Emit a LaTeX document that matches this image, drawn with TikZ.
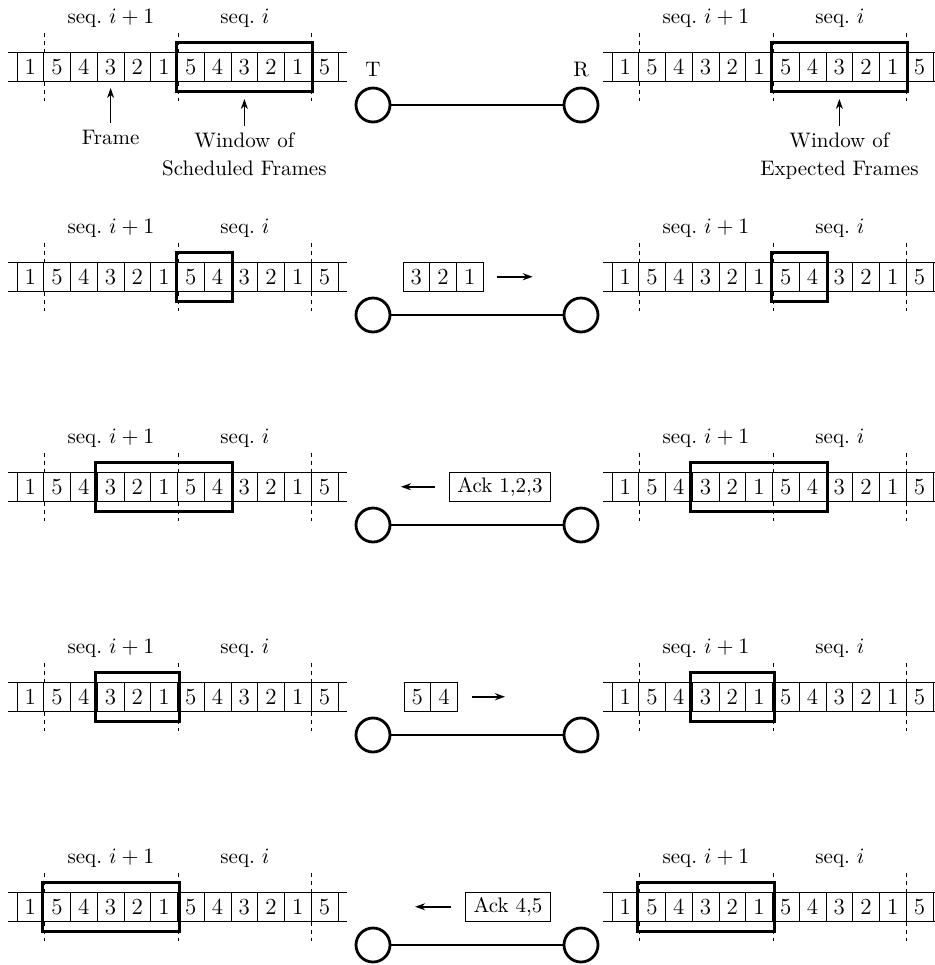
\documentclass[tikz,border=0pt]{standalone}
\usetikzlibrary{arrows.meta,positioning}

\newcommand{\seqfont}{\fontsize{10.5}{14}\selectfont}
\newcommand{\cellfont}{\fontsize{11.5}{14}\selectfont}

\tikzset{
  cell/.style={draw,line width=0.5pt,minimum width=13.375pt,minimum height=14.75pt,inner sep=0pt,font=\cellfont},
  stripline/.style={line width=0.5pt},
  window/.style={line width=1.5pt},
  seqsep/.style={line width=0.5pt,dash pattern=on 2pt off 2pt},
  station/.style={circle,draw,line width=1.4pt,minimum size=17pt,inner sep=0pt},
  link/.style={line width=1.4pt},
  msg/.style={line width=1pt,-{Stealth[length=5pt,width=3.5pt]}},
  pointer/.style={line width=0.7pt,-{Stealth[length=5pt,width=3.5pt]}},
  ackbox/.style={draw,line width=0.5pt,minimum height=14.75pt,inner xsep=4pt,inner ysep=0pt,font=\seqfont},
  lbl/.style={font=\seqfont,align=center},
}

% #1 name, #2 left edge, #3 top edge, #4..#5 cells inside the window
\newcommand{\framestrip}[5]{%
  \draw[stripline] (#2-9,#3) -- (#2+330,#3) (#2-9,#3+29.5) -- (#2+330,#3+29.5);
  \foreach \d [count=\k] in {1,5,4,3,2,1,5,4,3,2,1,5}
    \node[cell] (#1-\k) at (#2+\k*26.75-13.375,#3+14.75) {\d};
  \foreach \k in {1,6,11}
    \draw[seqsep] ([yshift=9.5pt]#1-\k.north east) -- (#1-\k.north east)
                  (#1-\k.south east) -- ([yshift=-9.5pt]#1-\k.south east);
  \node[lbl] (#1-seqb) at (#2+94,#3-34) {seq.~$i+1$};
  \node[lbl] (#1-seqa) at (#2+228,#3-34) {seq.~$i$};
  \draw[window] ([shift={(-0.5pt,4.5pt)}]#1-#4.north west) rectangle ([shift={(0.5pt,-4.5pt)}]#1-#5.south east);
}

\begin{document}
\begin{tikzpicture}[x=0.5pt,y=-0.5pt]
  \useasboundingbox (0,0) rectangle (935,965);
  \clip (0,0) rectangle (935,965);

  % sender and receiver buffers, one row per step
  \foreach \row/\yt/\wa/\wb in {1/52/7/11,2/262/7/8,3/472/4/8,4/682/4/6,5/892/2/6} {
    \framestrip{snd\row}{17}{\yt}{\wa}{\wb}
    \framestrip{rcv\row}{612}{\yt}{\wa}{\wb}
    \node[station] (T\row) at (373,\yt+53) {};
    \node[station] (R\row) at (581,\yt+53) {};
    \draw[link] (T\row) -- (R\row);
  }

  \node[lbl,above=1.5pt of T1] (Tname) {T};
  \node[lbl,above=1.5pt of R1] (Rname) {R};

  \node[lbl,below=20.5pt of snd1-4] (frame) {Frame};
  \draw[pointer] (frame) -- ([yshift=-3pt]snd1-4.south);
  \node[lbl,below=22pt of snd1-9] (schedwin) {Window of\\Scheduled Frames};
  \draw[pointer] (schedwin) -- ([yshift=-8.5pt]snd1-9.south);
  \node[lbl,below=22pt of rcv1-9] (expwin) {Window of\\Expected Frames};
  \draw[pointer] (expwin) -- ([yshift=-8.5pt]rcv1-9.south);

  % frames and acks on the link
  \foreach \d [count=\k] in {3,2,1}
    \node[cell] (pkt2-\k) at (403+\k*26.75-13.375,276.75) {\d};
  \draw[msg] ([xshift=6.5pt]pkt2-3.east) -- ++(18pt,0);

  \node[ackbox] (ack3) at (500,486.75) {Ack 1,2,3};
  \draw[msg] ([xshift=-7pt]ack3.west) -- ++(-17pt,0);

  \foreach \d [count=\k] in {5,4}
    \node[cell] (pkt4-\k) at (404+\k*26.75-13.375,696.75) {\d};
  \draw[msg] ([xshift=7pt]pkt4-2.east) -- ++(16.5pt,0);

  \node[ackbox] (ack5) at (508,906.75) {Ack 4,5};
  \draw[msg] ([xshift=-7pt]ack5.west) -- ++(-18pt,0);
\end{tikzpicture}
\end{document}
